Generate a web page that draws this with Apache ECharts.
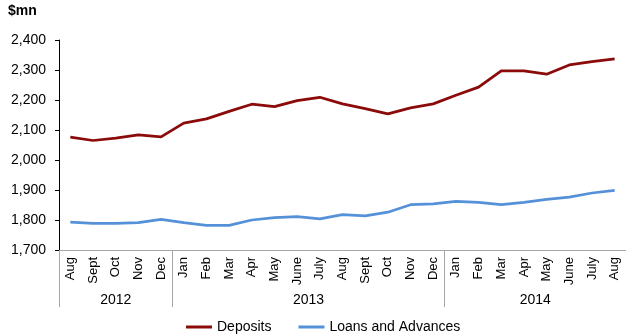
<!DOCTYPE html>
<html>
<head>
<meta charset="utf-8">
<script src="https://cdn.jsdelivr.net/npm/echarts@6/dist/echarts.min.js"></script>
<style>
html,body{margin:0;padding:0;background:#fff;}
#chart{width:626px;height:336px;}
</style>
</head>
<body>
<div id="chart"></div>
<script>
// Monthly balances, Aug 2012 - Aug 2014 ($mn)
const months = ['Aug','Sept','Oct','Nov','Dec',
  'Jan','Feb','Mar','Apr','May','June','July','Aug','Sept','Oct','Nov','Dec',
  'Jan','Feb','Mar','Apr','May','June','July','Aug'];
const years = ['2012', '2013', '2014'];
const monthsPerYear = [5, 12, 8];
const deposits = [2076, 2065, 2073, 2084, 2077,
  2123, 2137, 2162, 2186, 2178, 2198, 2209, 2187, 2171, 2154, 2174, 2187,
  2216, 2243, 2297, 2297, 2286, 2317, 2328, 2337];
const loans = [1793, 1789, 1789, 1791, 1802,
  1791, 1782, 1782, 1800, 1808, 1811, 1804, 1818, 1814, 1826, 1851, 1854,
  1862, 1859, 1851, 1859, 1869, 1876, 1890, 1899];
const yTicks = { min: 1700, max: 2400, step: 100 };

// Year row: a half-month grid so group edges and group centres both fall on ticks
const halfSteps = months.length * 2;
const yearSlots = new Array(halfSteps + 1).fill('');
const yearEdges = [0];
const yearCentres = [];
let pos = 0;
monthsPerYear.forEach((n, i) => {
  const centre = pos * 2 + n;
  yearSlots[centre] = years[i];
  yearCentres.push(centre);
  pos += n;
  yearEdges.push(pos * 2);
});

const font = 'Liberation Sans, Arial, sans-serif';
const chart = echarts.init(document.getElementById('chart'), null, { renderer: 'canvas' });
chart.setOption({
  animation: false,
  textStyle: { fontFamily: font },
  grid: { left: 59, top: 40, width: 569, height: 210, containLabel: false },
  legend: {
    bottom: -3,
    left: 181,
    itemWidth: 26,
    itemHeight: 3,
    itemGap: 27,
    icon: 'rect',
    textStyle: { fontFamily: font, fontSize: 14, color: '#000' },
    data: ['Deposits', 'Loans and Advances']
  },
  graphic: [{
    type: 'text', left: 8, top: 4,
    style: { text: '$mn', font: 'bold 14px ' + font, fill: '#000' }
  }],
  xAxis: [{
    type: 'category',
    data: months,
    boundaryGap: true,
    axisLine: { lineStyle: { color: '#a6a6a6', width: 1 } },
    axisTick: { show: false },
    axisLabel: { rotate: 90, interval: 0, margin: 7, fontSize: 13, color: '#000', fontFamily: font }
  }, {
    type: 'category',
    data: yearSlots,
    boundaryGap: false,
    position: 'bottom',
    axisLine: { show: false },
    axisTick: {
      show: true, length: 57, inside: false,
      interval: (i) => yearEdges.includes(i),
      lineStyle: { color: '#a6a6a6', width: 1 }
    },
    axisLabel: {
      interval: (i) => yearCentres.includes(i),
      margin: 43, fontSize: 14, color: '#000', fontFamily: font
    }
  }],
  yAxis: {
    type: 'value',
    min: yTicks.min, max: yTicks.max, interval: yTicks.step,
    axisLine: { show: true, lineStyle: { color: '#000', width: 1 } },
    axisTick: { show: true, length: 4, lineStyle: { color: '#000' } },
    splitLine: { show: false },
    axisLabel: {
      margin: 13, fontSize: 14, color: '#000', fontFamily: font,
      formatter: (v) => v.toLocaleString('en-US')
    }
  },
  series: [{
    name: 'Deposits',
    type: 'line',
    data: deposits,
    symbol: 'none',
    lineStyle: { color: '#8b0a0a', width: 2.75 },
    itemStyle: { color: '#8b0a0a' }
  }, {
    name: 'Loans and Advances',
    type: 'line',
    data: loans,
    symbol: 'none',
    lineStyle: { color: '#5591d9', width: 2.75 },
    itemStyle: { color: '#5591d9' }
  }]
});
</script>
</body>
</html>
